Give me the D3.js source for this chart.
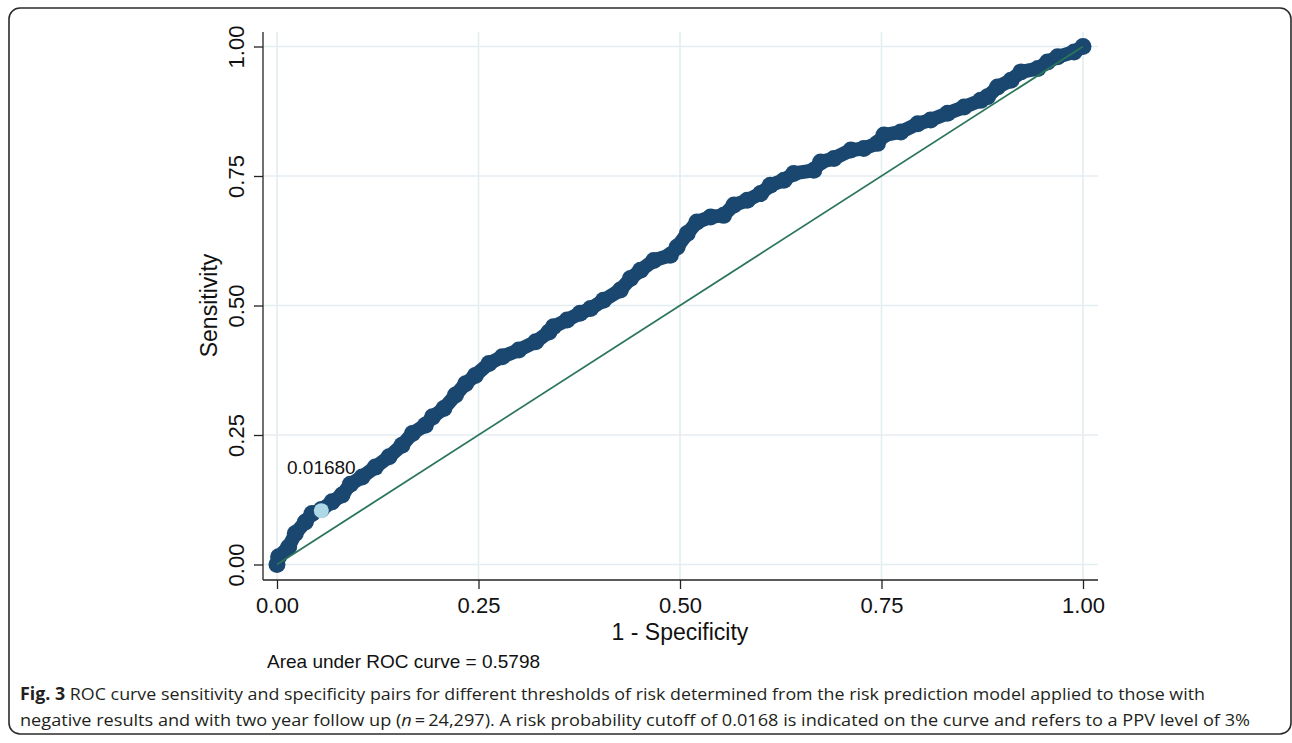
<!DOCTYPE html>
<html>
<head>
<meta charset="utf-8">
<script src="https://cdn.jsdelivr.net/npm/d3@7"></script>
<style>
  body { margin: 0; background: #fff; }
  svg { display: block; }
</style>
</head>
<body>
<div id="chart"></div>
<script>
(function(d3) {
  'use strict';

  // ROC points (1 - specificity, sensitivity)
  var fpr = [0, 0.002, 0.0145, 0.0227, 0.0352, 0.0435, 0.055, 0.0683, 0.0807, 0.091,
    0.1056, 0.122, 0.139, 0.155, 0.168, 0.184, 0.193, 0.207, 0.2215, 0.234,
    0.246, 0.263, 0.2795, 0.300, 0.321, 0.3375, 0.343, 0.360, 0.376, 0.389,
    0.405, 0.426, 0.4385, 0.451, 0.4675, 0.488, 0.4965, 0.509, 0.521, 0.538,
    0.554, 0.567, 0.5835, 0.600, 0.612, 0.629, 0.641, 0.666, 0.6745, 0.691,
    0.712, 0.728, 0.745, 0.753, 0.774, 0.795, 0.811, 0.832, 0.8525, 0.873,
    0.8815, 0.894, 0.9106, 0.923, 0.944, 0.956, 0.9686, 0.989, 1.0];
  var tpr = [0, 0.015, 0.034, 0.0598, 0.0822, 0.0985, 0.106, 0.121, 0.134, 0.155,
    0.169, 0.188, 0.208, 0.230, 0.253, 0.269, 0.285, 0.301, 0.327, 0.349,
    0.365, 0.388, 0.401, 0.414, 0.430, 0.449, 0.459, 0.472, 0.485, 0.494,
    0.510, 0.530, 0.552, 0.568, 0.587, 0.597, 0.613, 0.639, 0.661, 0.671,
    0.674, 0.694, 0.703, 0.716, 0.732, 0.742, 0.755, 0.761, 0.777, 0.784,
    0.800, 0.803, 0.813, 0.829, 0.835, 0.851, 0.858, 0.871, 0.883, 0.896,
    0.903, 0.922, 0.935, 0.951, 0.9575, 0.970, 0.980, 0.9896, 1.0];

  var cutoffFpr = [0.055];
  var cutoffTpr = [0.104];
  var cutoffLabel = ['0.01680'];

  var tickValues = [0, 0.25, 0.5, 0.75, 1];
  var xTitle = '1 - Specificity';
  var yTitle = 'Sensitivity';
  var aucText = 'Area under ROC curve = 0.5798';
  var captionBold = 'Fig. 3';
  var captionLine1 = ' ROC curve sensitivity and specificity pairs for different thresholds of risk determined from the risk prediction model applied to those with';
  var captionLine2a = 'negative results and with two year follow up (';
  var captionLine2n = 'n';
  var captionLine2b = '\u2009=\u200924,297). A risk probability cutoff of 0.0168 is indicated on the curve and refers to a PPV level of 3%';

  var width = 1292;
  var height = 743;
  var navy = '#1a476f';
  var refGreen = '#2b7559';
  var gridColor = '#e4edf0';
  var font = '"Liberation Sans", Arial, Helvetica, sans-serif';

  var svg = d3.select('#chart')
    .append('svg')
    .attr('width', width)
    .attr('height', height);

  // frame of the figure panel
  svg.append('rect')
    .attr('x', 9).attr('y', 8)
    .attr('width', 1282).attr('height', 726)
    .attr('rx', 11)
    .attr('fill', 'none')
    .attr('stroke', '#2b2b2b')
    .attr('stroke-width', 1.6);

  var x = d3.scaleLinear().domain([0, 1]).range([277, 1083]);
  var y = d3.scaleLinear().domain([0, 1]).range([564.5, 46.5]);

  var plotLeft = 263, plotRight = 1098, plotTop = 32, plotBottom = 580;

  // grid
  var grid = svg.append('g').attr('class', 'grid');
  grid.selectAll('.vg')
    .data(tickValues)
    .enter().append('line')
    .attr('x1', function(d){ return x(d); })
    .attr('x2', function(d){ return x(d); })
    .attr('y1', plotTop).attr('y2', plotBottom)
    .attr('stroke', gridColor).attr('stroke-width', 1.6);
  grid.selectAll('.hg')
    .data(tickValues)
    .enter().append('line')
    .attr('y1', function(d){ return y(d); })
    .attr('y2', function(d){ return y(d); })
    .attr('x1', plotLeft).attr('x2', plotRight)
    .attr('stroke', gridColor).attr('stroke-width', 1.6);

  // axes
  var xAxis = d3.axisBottom(x)
    .tickValues(tickValues)
    .tickFormat(d3.format('.2f'))
    .tickSize(9)
    .tickSizeOuter(0);
  var yAxis = d3.axisLeft(y)
    .tickValues(tickValues)
    .tickFormat(d3.format('.2f'))
    .tickSize(9)
    .tickSizeOuter(0);

  var gx = svg.append('g')
    .attr('transform', 'translate(0,' + plotBottom + ')')
    .call(xAxis);
  gx.select('.domain').remove();
  gx.selectAll('line').attr('stroke', '#222').attr('stroke-width', 1.3);
  gx.selectAll('text')
    .attr('y', 33).attr('dy', 0)
    .style('font-family', font).style('font-size', '22px').attr('fill', '#111');

  var gy = svg.append('g')
    .attr('transform', 'translate(' + plotLeft + ',0)')
    .call(yAxis);
  gy.select('.domain').remove();
  gy.selectAll('line').attr('stroke', '#222').attr('stroke-width', 1.3);
  gy.selectAll('text')
    .attr('transform', 'rotate(-90)')
    .attr('x', 0).attr('y', -19.5).attr('dy', 0)
    .attr('text-anchor', 'middle')
    .style('font-family', font).style('font-size', '22px').attr('fill', '#111');

  svg.append('line')
    .attr('x1', plotLeft).attr('x2', plotRight)
    .attr('y1', plotBottom).attr('y2', plotBottom)
    .attr('stroke', '#222').attr('stroke-width', 1.3);
  svg.append('line')
    .attr('x1', plotLeft).attr('x2', plotLeft)
    .attr('y1', plotTop).attr('y2', plotBottom)
    .attr('stroke', '#222').attr('stroke-width', 1.3);

  // axis titles
  svg.append('text')
    .attr('x', (x(0) + x(1)) / 2).attr('y', 640)
    .attr('text-anchor', 'middle')
    .style('font-family', font).style('font-size', '23px').attr('fill', '#111')
    .text(xTitle);
  svg.append('text')
    .attr('transform', 'translate(217,' + y(0.5) + ') rotate(-90)')
    .attr('text-anchor', 'middle')
    .style('font-family', font).style('font-size', '23px').attr('fill', '#111')
    .text(yTitle);

  // ROC curve: dense markers, drawn as band + circles
  var points = fpr.map(function(d, i){ return {x: d, y: tpr[i]}; });
  var line = d3.line()
    .x(function(d){ return x(d.x); })
    .y(function(d){ return y(d.y); });

  svg.append('path')
    .datum(points)
    .attr('d', line)
    .attr('fill', 'none')
    .attr('stroke', navy)
    .attr('stroke-width', 14)
    .attr('stroke-linejoin', 'round')
    .attr('stroke-linecap', 'round');

  svg.append('g').selectAll('circle')
    .data(points)
    .enter().append('circle')
    .attr('cx', function(d){ return x(d.x); })
    .attr('cy', function(d){ return y(d.y); })
    .attr('r', 8.5)
    .attr('fill', navy);

  // reference diagonal
  svg.append('line')
    .attr('x1', x(0)).attr('y1', y(0))
    .attr('x2', x(1)).attr('y2', y(1))
    .attr('stroke', refGreen)
    .attr('stroke-width', 1.8);

  // cutoff marker
  cutoffFpr.forEach(function(d, i){
    svg.append('circle')
      .attr('cx', x(d)).attr('cy', y(cutoffTpr[i]))
      .attr('r', 7.5)
      .attr('fill', '#add8e6');
    svg.append('text')
      .attr('x', x(d)).attr('y', y(cutoffTpr[i]) - 37)
      .attr('text-anchor', 'middle')
      .style('font-family', font).style('font-size', '19px').attr('fill', '#111')
      .text(cutoffLabel[i]);
  });

  // note
  svg.append('text')
    .attr('x', 267).attr('y', 668)
    .style('font-family', font).style('font-size', '19px').attr('fill', '#111')
    .text(aucText);

  // caption
  var capFont = '"Open Sans", "Noto Sans", sans-serif';
  var cap1 = svg.append('text')
    .attr('x', 20).attr('y', 700)
    .attr('textLength', 1185)
    .attr('lengthAdjust', 'spacingAndGlyphs')
    .style('font-family', capFont).style('font-size', '17px').attr('fill', '#231f20');
  cap1.append('tspan').style('font-weight', 'bold').text(captionBold);
  cap1.append('tspan').text(captionLine1);

  var cap2 = svg.append('text')
    .attr('x', 20).attr('y', 726)
    .attr('textLength', 1230)
    .attr('lengthAdjust', 'spacingAndGlyphs')
    .style('font-family', capFont).style('font-size', '17px').attr('fill', '#231f20');
  cap2.append('tspan').text(captionLine2a);
  cap2.append('tspan').style('font-style', 'italic').text(captionLine2n);
  cap2.append('tspan').text(captionLine2b);

})(window.d3);
</script>
</body>
</html>
